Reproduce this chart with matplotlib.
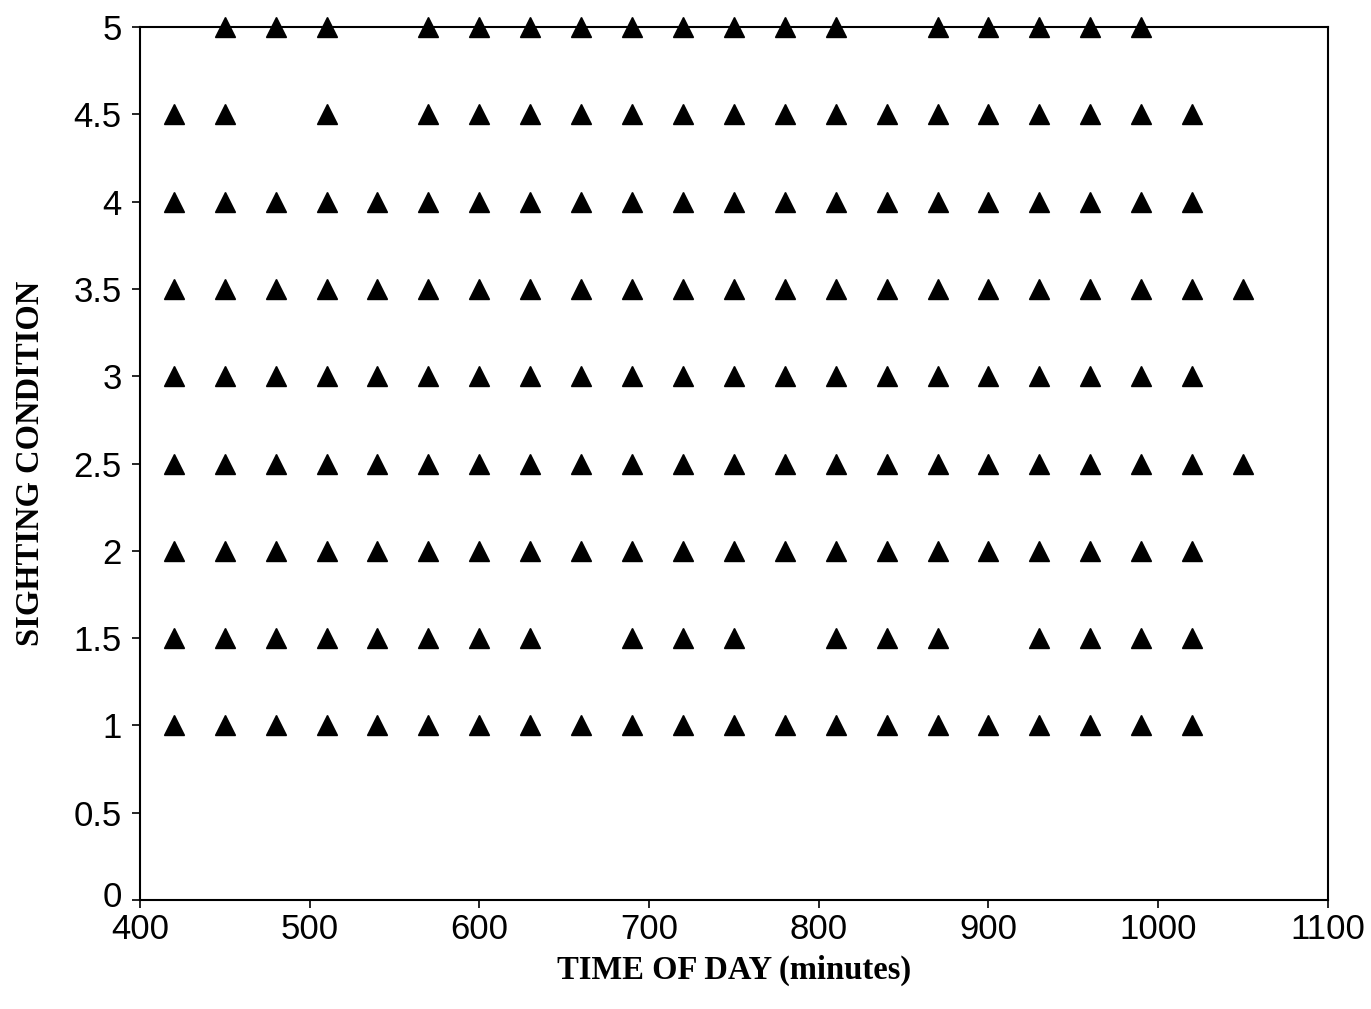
import matplotlib
matplotlib.use("Agg")
import matplotlib.pyplot as plt
import matplotlib.transforms as mtransforms
from matplotlib.ticker import FuncFormatter

# sighting condition levels and the times (minutes) observed at each level
cond_levels = [5, 4.5, 4, 3.5, 3, 2.5, 2, 1.5, 1]
all_times = [420, 450, 480, 510, 540, 570, 600, 630, 660, 690, 720, 750,
             780, 810, 840, 870, 900, 930, 960, 990, 1020, 1050]
times_5 = [450, 480, 510, 570, 600, 630, 660, 690, 720, 750, 780, 810,
           870, 900, 930, 960, 990]
times_45 = [420, 450, 510, 570, 600, 630, 660, 690, 720, 750, 780, 810,
            840, 870, 900, 930, 960, 990, 1020]
times_4 = all_times[:-1]
times_35 = all_times
times_3 = all_times[:-1]
times_25 = all_times
times_2 = all_times[:-1]
times_15 = [420, 450, 480, 510, 540, 570, 600, 630, 690, 720, 750, 810,
            840, 870, 930, 960, 990, 1020]
times_1 = all_times[:-1]
rows = [times_5, times_45, times_4, times_35, times_3, times_25, times_2,
        times_15, times_1]

fig = plt.figure(figsize=(13.71, 10.09), dpi=100)
ax = fig.add_axes([0.102, 0.108, 0.8666, 0.8652])

for lvl, ts in zip(cond_levels, rows):
    ax.plot(ts, [lvl] * len(ts), linestyle="none", marker="^", ms=14,
            color="black", clip_on=False)

ax.set_xlim(400, 1100)
ax.set_ylim(0, 5)
ax.set_xticks(range(400, 1101, 100))
ax.set_yticks([0, 0.5, 1, 1.5, 2, 2.5, 3, 3.5, 4, 4.5, 5])
ax.yaxis.set_major_formatter(FuncFormatter(lambda v, p: "%g" % v))

for s in ax.spines.values():
    s.set_linewidth(1.5)
ax.tick_params(direction="out", length=6, width=1.2, labelsize=25)
ax.tick_params(axis="y", pad=7)
ax.tick_params(axis="x", pad=3)
for lab in ax.get_xticklabels() + ax.get_yticklabels():
    lab.set_family("Liberation Sans")

# lift the "0" label a touch so it doesn't sit on top of "400"
fig.canvas.draw()
zero_lab = ax.yaxis.get_major_ticks()[0].label1
zero_lab.set_transform(zero_lab.get_transform() +
                       mtransforms.ScaledTranslation(0, 4 / 72, fig.dpi_scale_trans))

ax.set_xlabel("TIME OF DAY (minutes)", family="Liberation Serif",
              fontweight="bold", fontsize=23.5, labelpad=7)
ax.set_ylabel("SIGHTING CONDITION", family="Liberation Serif",
              fontweight="bold", fontsize=23.5, labelpad=20)

fig.savefig("out.png", dpi=100)
